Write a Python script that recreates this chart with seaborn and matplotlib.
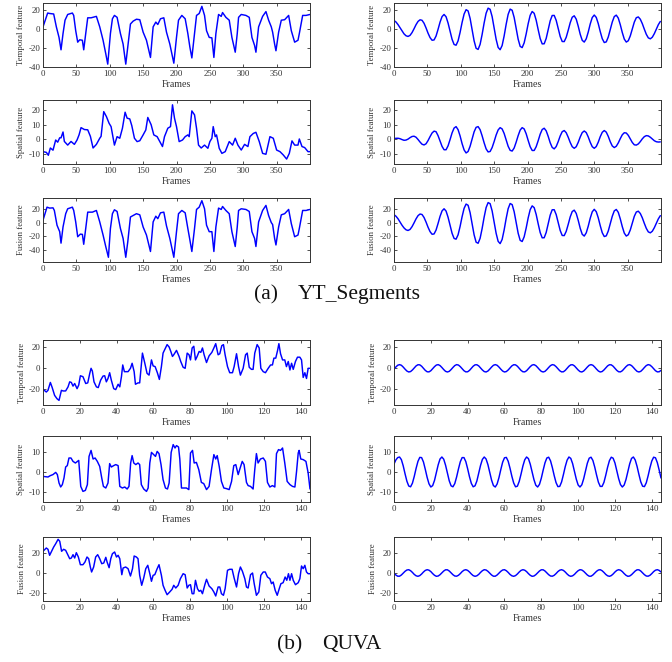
import numpy as np
import matplotlib
matplotlib.use("Agg")
import matplotlib.pyplot as plt
import seaborn as sns

sns.set_theme(style="ticks")
plt.rcParams['font.family'] = ['Liberation Serif', 'DejaVu Serif']
plt.rcParams['axes.unicode_minus'] = False

# ---- YT_Segments, left column (raw features) ----
yt_temporal_f = [0, 7, 10, 16, 20, 24, 27, 30, 33, 37, 44, 46, 49, 52, 55, 59, 61, 64, 67, 72,
                 80, 85, 90, 94, 97, 101, 104, 107, 111, 116, 120, 124, 127, 131, 135, 140, 145, 150, 155, 161,
                 165, 169, 172, 176, 181, 185, 190, 196, 200, 203, 208, 213, 217, 220, 223, 227, 230, 234, 238, 242,
                 245, 249, 253, 256, 259, 263, 267, 269, 274, 279, 283, 288, 291, 293, 297, 304, 309, 313, 317, 319,
                 323, 329, 334, 338, 342, 344, 347, 349, 353, 357, 362, 368, 372, 377, 382, 384, 389, 394, 400]
yt_temporal_v = [2, 16.5, 16, 15.5, 2, -9, -22, -5, 9, 15, 16.5, 14, -2, -14, -11.5, -12, -22, -5, 11.5, 11.5,
                 13, 2, -12, -26, -37, -5, 10.5, 14, 12, -5, -16, -37, -19, 5, 8, 10, 9.5, -3.5, -12, -30,
                 2, 7, 4.5, 10.5, 11.5, -3.5, -16, -36, -9, 9, 14, 10.5, -5, -19, -30.5, -5, 14, 16, 23.5, 14,
                 -2, -9, -9.5, -30, -5, 15, 13, 17, 12, 9, -9, -24.5, -5, 12, 15, 14, 12, -9, -17.5, -24.5,
                 2, 13, 18, 9, 2, -3.5, -16, -23, -3.5, 9, 9.5, 14, -2, -14, -12, -5, 14, 14, 15]

yt_spatial_f = [0, 5, 8, 11, 15, 19, 22, 25, 27, 30, 32, 37, 42, 47, 51, 54, 57, 62, 67, 71,
                75, 80, 85, 87, 91, 95, 99, 102, 107, 111, 115, 119, 123, 126, 130, 133, 137, 141, 145, 150,
                154, 157, 162, 166, 171, 175, 179, 182, 187, 191, 194, 197, 200, 204, 209, 213, 217, 219, 223, 227,
                230, 233, 237, 242, 247, 250, 253, 255, 258, 260, 264, 268, 273, 279, 284, 288, 292, 297, 302, 307,
                310, 315, 319, 324, 329, 334, 340, 345, 350, 355, 360, 365, 369, 373, 377, 382, 384, 388, 392, 397, 400]
yt_spatial_v = [-8.5, -9, -11, -6, -7.5, -0.5, -2, 1, 1, 5, -1.5, -4, -1.5, -3.5, -0.5, 3, 8, 6.7, 6.5, 2,
                -6, -3.5, 0.7, 2, 19, 15.6, 11, 8.7, -4, 1.8, 0.7, 7.6, 18.6, 14.5, 14, 9.4, 0.7, -1.6, -1, 3,
                6.4, 15, 10, 3, 1.8, -1.6, -5, 1.8, 7.6, 8.7, 23.7, 14.5, 8.7, -1.6, -0.5, 1.8, 3, 1.8, 19.5, 16.8,
                7.6, -4, -6, -4, -6.2, -1.6, 0.7, 8.7, 1.8, 3, -6.2, -9.7, -8.5, -1.6, -4, 0.7, -4, -7.4, -3.5, -5,
                1.8, 4, 4.8, -1.6, -9.7, -10.3, 1.8, 0.7, -7.4, -8.5, -10.8, -13.6, -9.7, -1.1, -4, -4, 0.2, -5, -5.7, -8.5, -8.5]

yt_fusion_f = [0, 6, 10, 15, 17, 21, 25, 27, 30, 34, 37, 44, 46, 49, 52, 56, 59, 61, 64, 67,
               74, 80, 85, 90, 94, 98, 101, 104, 107, 111, 116, 120, 124, 127, 131, 135, 140, 145, 150, 155,
               161, 165, 169, 172, 176, 181, 185, 190, 196, 200, 203, 208, 213, 217, 220, 223, 227, 230, 234, 238,
               242, 245, 249, 253, 256, 259, 263, 267, 269, 274, 279, 283, 288, 291, 293, 297, 304, 309, 313, 317,
               319, 323, 329, 334, 338, 342, 344, 347, 349, 353, 357, 362, 368, 372, 377, 382, 384, 389, 394, 400]
yt_fusion_v = [4, 23.4, 22, 22.4, 18.5, -3.4, -13, -30, -6, 13.7, 21, 23.4, 18.5, 1.5, -20.5, -16.6, -17, -31.7, -8.3, 16,
               16, 18.5, 1.5, -18, -35, -51, -8.3, 13.7, 19.5, 17, -8.3, -23, -51, -28, 8.8, 11, 13.7, 12, -6, -18,
               -42.4, 1.5, 10, 6.3, 15, 16, -4.4, -23, -51, -13, 13.7, 18.5, 15, -8.3, -25, -42.4, -8.3, 20, 23.4, 33,
               21, -3.4, -13, -13, -42.4, -6, 22, 20, 24.4, 18.5, 13.7, -13, -35, -6, 18.5, 21, 20, 17, -13, -23,
               -35, 1.5, 18.5, 26, 11, 0.5, -2.4, -23, -32.7, -6, 12, 13.7, 20, -1, -20.5, -18, -8.3, 18.5, 18.5, 20]

# ---- YT_Segments, right column (one value every 3 frames) ----
yt_temporal_r = [8.7, 7.1, 4.4, 1.1, -2.4, -5.3, -7.3, -8.0, -6.9, -4.0, 0.0, 4.3, 7.7, 9.4, 8.9, 5.8, 0.9, -4.6, -9.2, -12.0,
                 -11.7, -7.6, -0.6, 7.0, 12.8, 15.0, 12.6, 6.0, -2.7, -11.0, -16.4, -17.2, -12.6, -3.8, 6.6, 15.4, 20.0, 18.7, 10.9, -0.9,
                 -12.6, -20.4, -21.6, -16.3, -6.0, 6.0, 16.3, 21.6, 20.4, 12.8, 1.0, -11.0, -19.5, -21.9, -17.5, -7.5, 4.6, 15.1, 20.6, 19.4,
                 11.9, 0.5, -10.9, -18.4, -19.7, -14.7, -5.4, 5.3, 14.1, 18.1, 16.2, 9.0, -0.9, -10.2, -15.8, -15.7, -10.1, -0.9, 8.3, 13.9,
                 14.0, 8.8, 0.4, -8.1, -13.3, -13.4, -8.9, -1.5, 6.4, 12.1, 13.6, 10.1, 2.7, -5.8, -12.1, -13.9, -10.5, -3.4, 5.1, 11.8,
                 14.4, 11.9, 5.4, -3.0, -10.4, -14.4, -13.7, -8.6, -0.8, 7.1, 12.8, 14.3, 11.2, 4.3, -3.9, -10.8, -13.9, -12.5, -7.4, -0.1,
                 7.0, 11.6, 12.4, 10.0, 5.4, -0.4, -5.8, -9.5, -10.5, -8.8, -5.1, -0.3, 4.3, 7.7]
yt_spatial_r = [0.5, 0.65, 0.7, 0.4, -0.2, -0.7, -0.55, 0.1, 1.1, 1.9, 2.1, 1.4, -0.15, -1.9, -3.4, -3.9, -3.1, -0.9, 1.8, 4.3,
                5.6, 5.2, 2.5, -1.2, -4.9, -7.2, -7.2, -4.5, -0.2, 4.4, 7.7, 8.7, 6.6, 2.3, -3.0, -7.3, -9.4, -8.4, -4.8, 0.2,
                5.1, 8.2, 8.7, 6.6, 2.4, -2.4, -6.6, -8.7, -8.4, -5.7, -1.6, 2.9, 6.4, 8.0, 7.1, 4.0, -0.5, -4.8, -7.6, -8.1,
                -6.0, -2.0, 2.5, 6.3, 8.0, 7.1, 3.8, -0.8, -5.1, -7.7, -7.7, -5.1, -1.0, 3.5, 6.7, 7.6, 5.8, 2.0, -2.4, -5.6,
                -6.6, -5.0, -1.6, 2.3, 5.2, 6.0, 4.5, 1.4, -2.2, -5.1, -6.2, -5.1, -2.1, 1.6, 4.6, 5.7, 4.6, 1.6, -2.1, -5.1,
                -6.2, -5.0, -2.0, 1.8, 4.8, 6.0, 4.9, 2.0, -1.7, -4.6, -5.7, -4.8, -2.5, 0.45, 3.1, 4.5, 4.3, 2.7, 0.3, -2.2,
                -3.8, -4.0, -3.2, -1.6, 0.3, 1.8, 2.5, 2.3, 1.4, 0.2, -1.0, -1.7, -1.9, -1.8]
yt_fusion_r = [12.2, 9.9, 6.2, 1.5, -3.4, -7.4, -10.2, -11.2, -9.7, -5.6, 0.0, 6.0, 10.8, 13.2, 12.5, 8.1, 1.3, -6.4, -12.9, -16.8,
               -16.4, -10.6, -0.8, 9.8, 17.9, 21.0, 17.6, 8.4, -3.8, -15.4, -23.0, -24.1, -17.6, -5.3, 9.2, 21.6, 28.0, 26.2, 15.3, -1.3,
               -17.6, -28.6, -30.2, -22.8, -8.4, 8.4, 22.8, 30.2, 28.6, 17.9, 1.4, -15.4, -27.3, -30.7, -24.5, -10.5, 6.4, 21.1, 28.8, 27.2,
               16.7, 0.7, -15.3, -25.8, -27.6, -20.6, -7.6, 7.4, 19.7, 25.3, 22.7, 12.6, -1.3, -14.3, -22.1, -22.0, -14.1, -1.3, 11.6, 19.5,
               19.6, 12.3, 0.6, -11.3, -18.6, -18.8, -12.5, -2.1, 9.0, 16.9, 19.0, 14.1, 3.8, -8.1, -16.9, -19.5, -14.7, -4.8, 7.1, 16.5,
               20.2, 16.7, 7.6, -4.2, -14.6, -20.2, -19.2, -12.0, -1.1, 9.9, 17.9, 20.0, 15.7, 6.0, -5.5, -15.1, -19.5, -17.5, -10.4, -0.1,
               9.8, 16.2, 17.4, 14.0, 7.6, -0.6, -8.1, -13.3, -14.7, -12.3, -7.1, -0.4, 6.0, 10.8]

# ---- QUVA, left column ----
qv_temporal_f = [0, 1.8, 2.7, 4, 5, 6.3, 7.6, 8.7, 10, 10.9, 12.3, 13.6, 14.5, 15.4, 16.3, 17.2, 18.5, 19.4, 20.3, 21.7,
                 23.2, 24.3, 25.4, 26.1, 26.8, 27.7, 29, 30, 31.3, 32.6, 33.5, 34.4, 35.3, 36.2, 37.1, 38.4, 39.5, 40.8, 41.7, 42.6,
                 43.3, 44.2, 46.2, 47.5, 48.4, 49.5, 50.2, 51.6, 52.5, 54, 55.3, 56.5, 57.6, 58.9, 59.8, 60.9, 62.1, 63.2, 64.3, 65.2,
                 66.5, 67.4, 68.5, 69.4, 70.3, 71, 72.5, 73.9, 74.8, 76.1, 77.2, 78.3, 79.3, 80.1, 81, 81.9, 82.8, 83.7, 84.8, 85.7,
                 86.6, 87.5, 88.8, 90.2, 91.7, 92.8, 93.8, 95.1, 96, 97.1, 98, 98.9, 100.2, 101.4, 102.9, 103.8, 105.1, 106.2, 107.2, 108.7,
                 110, 110.9, 112, 113.2, 114.1, 115, 116.3, 117.4, 118.3, 119.6, 120.8, 122.3, 123.6, 124.6, 125.4, 126.4, 127.4, 128.1, 129, 130.1,
                 131.3, 132.2, 133.2, 134.1, 135, 135.9, 137.1, 138.2, 139.5, 140.4, 141.3, 142.2, 143.1, 144, 145]
qv_temporal_v = [-20, -22.6, -21, -13.5, -18.4, -25.8, -29, -30.6, -21, -21.6, -21.6, -17.7, -12.9, -13.5, -17, -14.5, -19.4, -16, -7.1, -8,
                 -14.5, -13.9, -4.8, 0, -2.6, -12.9, -17.7, -18.4, -11.3, -7.4, -7.1, -12.9, -9.7, -4.2, -11.3, -19.4, -20.3, -15.2, -17.7, -8,
                 3.2, -3.2, -3.2, 0, 4.8, -3.2, -15.2, -13.9, -13.9, 14.5, 4.8, -4.8, -6.5, 8, 2.3, 1.6, -4.2, -10.6, 1.6, 14.5,
                 19.4, 22.6, 20.3, 16.1, 11.3, 12.9, 17.1, 11.3, 6.5, 1, 0, 14.5, 12.9, 8, 19.4, 21, 8, 11.3, 16.1, 15.2,
                 19.4, 12.9, 5.5, 11.9, 15.2, 19.4, 23.5, 12.9, 13.9, 21.6, 22.6, 12.9, 1.6, -4.2, -4.2, 1.6, 13.9, 1.6, -6.5, 0,
                 12.9, 14.5, 1, -1, -1, 14.5, 22.6, 19.4, 0, -3.2, -4.2, 0, 3.2, 3.2, 9.7, 9.7, 17.1, 23.5, 13.9, 8,
                 8, 1.6, 6.5, -1.6, 4.8, -1, 6.5, 10.6, 10.6, 8, -8.7, -4.2, -9.7, 0, 0]

qv_spatial_f = [0, 2.7, 4, 5.4, 6.9, 7.8, 8.7, 9.6, 10.5, 11.4, 12.3, 13.2, 14.1, 15.2, 16.3, 17.6, 18.7, 19.4, 20.5, 21.7,
                23, 24.1, 25, 26.1, 27.2, 28.3, 29.5, 30.8, 31.9, 32.8, 34.1, 35.3, 36.2, 37.1, 38.4, 39.5, 40.8, 41.7, 43.1, 44.4,
                45.7, 46.7, 47.6, 48.4, 49.3, 50.4, 51.6, 52.5, 53.4, 54.7, 56.2, 57.1, 58, 58.9, 60.1, 61.1, 62, 63, 64.1, 65.2,
                66.5, 67.6, 68.5, 69.6, 70.7, 71.7, 72.5, 73.6, 74.3, 75.2, 76.4, 77.9, 79.2, 80.1, 81.2, 82.1, 83.3, 84.6, 86, 87.3,
                88.8, 90.2, 91.5, 92.8, 93.8, 94.6, 95.7, 96.9, 98.2, 99.6, 101.1, 102.4, 103.6, 104.7, 106, 106.9, 108.2, 109.2, 110.5, 111.4,
                112.7, 114.1, 115, 115.9, 116.8, 118.1, 119.6, 120.8, 121.9, 123.2, 124.6, 125.9, 126.8, 127.9, 129, 130.1, 131.3, 132.6, 134.1, 135.5,
                136.8, 137.7, 138.6, 139.1, 140, 141.3, 142.8, 144, 145]
qv_spatial_v = [-2.2, -2.5, -1.8, -1.3, -0.2, -1.3, -5.5, -7.5, -6.3, -3, 2.5, 3.2, 7, 7, 5.3, 4.5, 5.3, 5.8, -7.2, -9.7,
                -9.2, -6.3, 7.8, 10.8, 6.5, 7, 5.3, 2.8, -3, -7.2, -8, -5.5, 4.2, 2.5, 3.2, 3.7, 3.2, -7.2, -8, -7.5,
                -8.5, -7.2, 4.5, 8.2, 4.5, 3.7, 4.5, 3.7, -6.3, -8.5, -9.7, -8, 4.5, 9.8, 8.7, 7.8, 10.3, 9.2, 3.7, -3.8,
                -8, -8.5, -5.5, 9.8, 13.7, 12, 13.2, 12.5, 6.5, -8, -8, -8, -8.8, 9.5, 10.8, 4.5, 4.8, 1.2, -5.2, -5.8,
                -8.8, -7.2, 1.2, 8.7, 6.5, 8.2, 2.8, -4.7, -8, -8.3, -8.8, -4.7, 3.2, 3.7, -1.3, 1.5, 5.3, 3.7, -5.2, -6.8,
                -7.2, -8.5, 1.2, 9.2, 4.5, 6.5, 7, 5.3, -5.2, -7.5, -6.8, -7.5, 9.2, 11.2, 10.8, 12, 4.5, -4.7, -6.3, -7.2,
                -7.5, 0.3, 9.5, 10.8, 6.5, 6.2, 5.3, -0.5, -8.5]

qv_fusion_f = [0, 1.8, 2.7, 3.6, 4.5, 5.8, 6.9, 8.2, 9.1, 10.1, 11.2, 12.3, 13.6, 14.5, 15.4, 16.3, 17.2, 18.1, 19.2, 20.3,
               21.7, 22.8, 23.9, 24.8, 25.7, 26.4, 27.5, 28.6, 29.7, 30.8, 31.9, 33, 34.1, 34.8, 35.9, 36.8, 37.7, 38.9, 39.9, 40.8,
               41.7, 42.8, 43.5, 44.9, 46.2, 47.5, 48.6, 49.5, 50.7, 51.6, 52.5, 53.6, 54.7, 55.8, 56.9, 58, 58.9, 59.8, 60.7, 62,
               63, 64.3, 65.2, 66.3, 67.4, 68.8, 70.1, 71, 72.1, 73.4, 74.6, 76.1, 77.2, 78.3, 79.2, 80.1, 81, 81.9, 82.8, 83.9,
               84.8, 85.7, 86.6, 87.9, 88.8, 90.2, 91.7, 92.8, 93.8, 95.1, 96, 96.9, 98, 98.9, 100.2, 101.4, 102.7, 103.8, 105.1, 106.2,
               107.2, 108.3, 109.6, 110.5, 111.4, 112.7, 113.8, 114.7, 115.9, 117.2, 118.3, 119.6, 120.7, 121.9, 123.2, 124.1, 125, 126.1, 127.2, 128.3,
               129.2, 130.4, 131.5, 132.4, 133.3, 134.1, 135, 135.9, 137.1, 138.6, 139.5, 140.4, 141.3, 142.2, 143.1, 144, 145]
qv_fusion_v = [21.7, 25, 23.7, 17.7, 21, 26, 29.3, 33.7, 31.7, 21.7, 23.7, 22.7, 17.7, 14.3, 15, 18.3, 15, 20.3, 16, 8.3,
               8.3, 11, 16, 14.3, 6, 1, 6, 16, 18.3, 14.3, 9.3, 10, 15.7, 11, 5.3, 14.3, 19.3, 21, 16, 17.7,
               14.3, -1.7, 5, 6, 4.3, -3, 4.3, 17, 16, 14.3, -2.3, -12.3, -5, 4.3, 7.7, -0.7, -8.3, -2.3, -1.7, 4.3,
               8.3, -2.3, -12.3, -17.3, -21.7, -19, -16.3, -12.3, -15, -12.3, -5.7, -0.7, -1.7, -15, -12.3, -11.7, -20.7, -20.7, -7.3, -15.7,
               -18.3, -17.3, -20.7, -11.7, -6.3, -13, -15.7, -19, -23, -14, -14, -20.7, -22.3, -15.7, 2.7, 3.7, 3.7, -5, -14, -0.7,
               6, 1.7, -5.7, -14, -15, -1.7, 0, -10.7, -22.3, -19, -2.3, 1, 1, -4, -5.7, -10.7, -9, -17.3, -22.3, -15.7,
               -10.7, -9.7, -4, -7.3, -0.7, -7.3, -0.7, -7.3, -11.7, -9.7, -5.7, 7, 4.3, 7.7, 1, -0.7, -0.7]

# ---- QUVA, right column (one value per frame) ----
qv_temporal_r = [-0.8, 1.2, 2.9, 3.5, 2.9, 1.2, -0.8, -2.6, -3.5, -3.1, -1.6, 0.4, 2.3, 3.4, 3.3, 2.0, 0.0, -2.0, -3.3, -3.4,
                 -2.3, -0.4, 1.6, 3.1, 3.5, 2.6, 0.8, -1.2, -2.9, -3.5, -2.9, -1.2, 0.8, 2.6, 3.5, 3.1, 1.6, -0.4, -2.3, -3.4,
                 -3.3, -2.0, 0.0, 2.0, 3.3, 3.4, 2.3, 0.4, -1.6, -3.1, -3.5, -2.6, -0.8, 1.2, 2.9, 3.5, 2.9, 1.2, -0.8, -2.6,
                 -3.5, -3.1, -1.6, 0.4, 2.3, 3.4, 3.3, 2.0, 0.0, -2.0, -3.3, -3.4, -2.3, -0.4, 1.6, 3.1, 3.5, 2.6, 0.8, -1.2,
                 -2.9, -3.5, -2.9, -1.2, 0.8, 2.6, 3.5, 3.1, 1.6, -0.4, -2.3, -3.4, -3.3, -2.0, 0.0, 2.0, 3.3, 3.4, 2.3, 0.4,
                 -1.6, -3.1, -3.5, -2.6, -0.8, 1.2, 2.9, 3.5, 2.9, 1.2, -0.8, -2.6, -3.5, -3.1, -1.6, 0.4, 2.3, 3.4, 3.3, 2.0,
                 0.0, -2.0, -3.3, -3.4, -2.3, -0.4, 1.6, 3.1, 3.5, 2.6, 0.8, -1.2, -2.9, -3.5, -2.9, -1.2, 0.8, 2.6, 3.5, 3.1,
                 1.6, -0.4, -2.3, -3.4, -3.3, -2.0]
qv_spatial_r = [4.0, 6.0, 7.2, 7.5, 6.2, 3.1, -0.9, -4.6, -7.0, -7.4, -5.6, -2.2, 1.8, 5.3, 7.3, 7.2, 5.0, 1.3, -2.7, -5.9,
                -7.5, -6.8, -4.2, -0.4, 3.6, 6.5, 7.5, 6.4, 3.4, -0.6, -4.4, -6.9, -7.4, -5.8, -2.5, 1.5, 5.1, 7.2, 7.2, 5.2,
                1.6, -2.4, -5.7, -7.4, -6.9, -4.5, -0.7, 3.3, 6.3, 7.5, 6.5, 3.7, -0.3, -4.1, -6.8, -7.5, -6.0, -2.8, 1.2, 4.9,
                7.1, 7.3, 5.4, 1.9, -2.1, -5.5, -7.4, -7.1, -4.7, -1.0, 3.0, 6.1, 7.5, 6.7, 3.9, 0.1, -3.8, -6.6, -7.5, -6.2,
                -3.1, 0.9, 4.6, 7.0, 7.4, 5.6, 2.2, -1.8, -5.3, -7.3, -7.2, -5.0, -1.3, 2.7, 5.9, 7.5, 6.8, 4.2, 0.4, -3.6,
                -6.5, -7.5, -6.4, -3.4, 0.6, 4.4, 6.9, 7.4, 5.8, 2.5, -1.5, -5.1, -7.2, -7.2, -5.2, -1.6, 2.4, 5.7, 7.4, 6.9,
                4.5, 0.7, -3.3, -6.3, -7.5, -6.5, -3.7, 0.3, 4.1, 6.8, 7.5, 6.0, 2.8, -1.2, -4.9, -7.1, -7.3, -5.4, -1.9, 2.1,
                5.5, 7.4, 7.1, 4.7, 1.0, -3.0]
qv_fusion_r = [-0.2, -2.0, -3.2, -3.2, -2.0, -0.2, 1.7, 3.0, 3.3, 2.3, 0.6, -1.4, -2.8, -3.3, -2.6, -1.0, 1.0, 2.6, 3.3, 2.8,
               1.4, -0.6, -2.3, -3.3, -3.0, -1.7, 0.2, 2.0, 3.2, 3.2, 2.0, 0.2, -1.7, -3.0, -3.2, -2.3, -0.6, 1.4, 2.8, 3.3,
               2.6, 1.0, -1.0, -2.6, -3.3, -2.8, -1.4, 0.6, 2.3, 3.3, 3.0, 1.7, -0.2, -2.0, -3.2, -3.2, -2.0, -0.2, 1.7, 3.0,
               3.3, 2.3, 0.6, -1.4, -2.8, -3.3, -2.6, -1.0, 1.0, 2.6, 3.3, 2.8, 1.4, -0.6, -2.3, -3.3, -3.0, -1.7, 0.2, 2.0,
               3.2, 3.2, 2.0, 0.2, -1.7, -3.0, -3.2, -2.3, -0.6, 1.4, 2.8, 3.3, 2.6, 1.0, -1.0, -2.6, -3.3, -2.8, -1.4, 0.6,
               2.3, 3.3, 3.0, 1.7, -0.2, -2.0, -3.2, -3.2, -2.0, -0.2, 1.7, 3.0, 3.3, 2.3, 0.6, -1.4, -2.8, -3.3, -2.6, -1.0,
               1.0, 2.6, 3.3, 2.8, 1.4, -0.6, -2.3, -3.3, -3.0, -1.7, 0.2, 2.0, 3.2, 3.2, 2.0, 0.2, -1.7, -3.0, -3.2, -2.3,
               -0.6, 1.4, 2.8, 3.3, 2.6, 1.0]

LINE = '#0000ff'
INK = '#333333'

fig = plt.figure(figsize=(6.72, 6.62), dpi=100)


def panel(rect, frames, values, xlim, xticks, ylim, yticks, ylabel):
    ax = fig.add_axes(rect)
    sns.lineplot(x=frames, y=values, ax=ax, color=LINE, linewidth=1.05, errorbar=None)
    ax.set_xlim(xlim)
    ax.set_ylim(ylim)
    ax.set_xticks(xticks)
    ax.set_yticks(yticks)
    ax.set_xlabel('Frames', fontsize=7.2, labelpad=1.5, color=INK)
    ax.set_ylabel(ylabel, fontsize=6.3, labelpad=2, color=INK)
    ax.tick_params(direction='in', top=True, right=True, length=2.5, width=0.6,
                   labelsize=6.4, pad=2, colors=INK)
    for s in ax.spines.values():
        s.set_linewidth(0.7)
        s.set_color(INK)
    return ax


left_x, right_x, w = 43 / 672, 394 / 672, 267 / 672
rows = [(3, 67), (100, 164), (198, 262), (340, 405), (436, 502), (537, 601)]
rects_l = [(left_x, 1 - b / 662, w, (b - t) / 662) for t, b in rows]
rects_r = [(right_x, 1 - b / 662, w, (b - t) / 662) for t, b in rows]

yt_xt = list(range(0, 351, 50))
qv_xt = list(range(0, 141, 20))

# YT_Segments
panel(rects_l[0], yt_temporal_f, yt_temporal_v, (0, 400), yt_xt, (-40, 27), [-40, -20, 0, 20], 'Temporal feature')
panel(rects_l[1], yt_spatial_f, yt_spatial_v, (0, 400), yt_xt, (-17, 27), [-10, 0, 10, 20], 'Spatial feature')
panel(rects_l[2], yt_fusion_f, yt_fusion_v, (0, 400), yt_xt, (-58, 37), [-40, -20, 0, 20], 'Fusion feature')
panel(rects_r[0], np.arange(len(yt_temporal_r)) * 3, yt_temporal_r, (0, 400), yt_xt, (-40, 27), [-40, -20, 0, 20], 'Temporal feature')
panel(rects_r[1], np.arange(len(yt_spatial_r)) * 3, yt_spatial_r, (0, 400), yt_xt, (-17, 27), [-10, 0, 10, 20], 'Spatial feature')
panel(rects_r[2], np.arange(len(yt_fusion_r)) * 3, yt_fusion_r, (0, 400), yt_xt, (-58, 37), [-40, -20, 0, 20], 'Fusion feature')

# QUVA
panel(rects_l[3], qv_temporal_f, qv_temporal_v, (0, 145), qv_xt, (-35, 27), [-20, 0, 20], 'Temporal feature')
panel(rects_l[4], qv_spatial_f, qv_spatial_v, (0, 145), qv_xt, (-15, 18), [-10, 0, 10], 'Spatial feature')
panel(rects_l[5], qv_fusion_f, qv_fusion_v, (0, 145), qv_xt, (-28, 36), [-20, 0, 20], 'Fusion feature')
panel(rects_r[3], np.arange(len(qv_temporal_r)), qv_temporal_r, (0, 145), qv_xt, (-35, 27), [-20, 0, 20], 'Temporal feature')
panel(rects_r[4], np.arange(len(qv_spatial_r)), qv_spatial_r, (0, 145), qv_xt, (-15, 18), [-10, 0, 10], 'Spatial feature')
panel(rects_r[5], np.arange(len(qv_fusion_r)), qv_fusion_r, (0, 145), qv_xt, (-28, 36), [-20, 0, 20], 'Fusion feature')

# sub-captions
cap = dict(va='center', fontsize=15.5, color='#111111')
fig.text(266 / 672, 1 - 295 / 662, '(a)', ha='center', **cap)
fig.text(298 / 672, 1 - 295 / 662, 'YT_Segments', ha='left', **cap)
fig.text(290 / 672, 1 - 645 / 662, '(b)', ha='center', **cap)
fig.text(322 / 672, 1 - 645 / 662, 'QUVA', ha='left', **cap)

fig.savefig('out.png', dpi=100)
plt.close(fig)
